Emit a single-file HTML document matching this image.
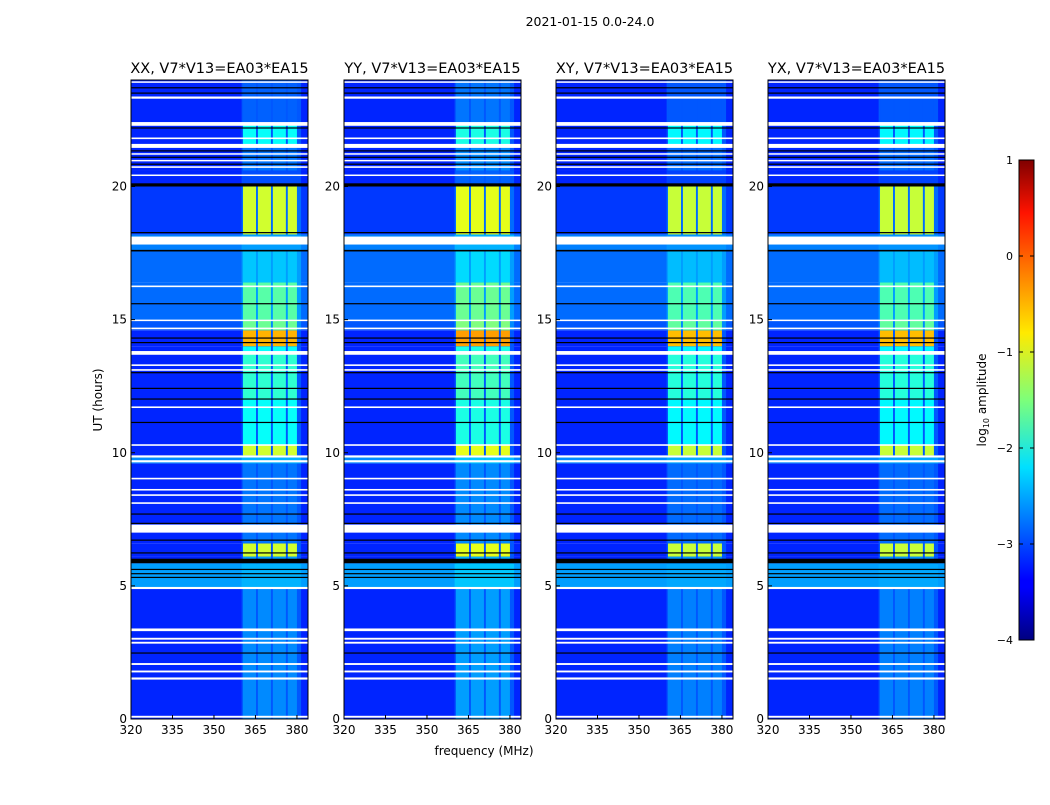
<!DOCTYPE html>
<html><head><meta charset="utf-8">
<style>
body{margin:0;background:#fff;width:1050px;height:800px;overflow:hidden;font-family:"Liberation Sans","DejaVu Sans",sans-serif}
svg text{font-family:"DejaVu Sans","Liberation Sans",sans-serif}
</style></head>
<body>
<svg id="fig" width="1050" height="800" xmlns="http://www.w3.org/2000/svg">
<defs>
<linearGradient id="jet" x1="0" y1="1" x2="0" y2="0">
<stop offset="0" stop-color="#000080"/><stop offset="0.11" stop-color="#0000ff"/><stop offset="0.125" stop-color="#0000ff"/>
<stop offset="0.36" stop-color="#00e0ff"/><stop offset="0.5" stop-color="#7dff7a"/><stop offset="0.64" stop-color="#ffea00"/>
<stop offset="0.89" stop-color="#ff1300"/><stop offset="1" stop-color="#800000"/>
</linearGradient>
</defs>
<text x="590" y="26" font-size="12.5" text-anchor="middle">2021-01-15 0.0-24.0</text>
<text transform="translate(102,400) rotate(-90)" font-size="12" text-anchor="middle">UT (hours)</text>
<text x="484" y="755" font-size="12" text-anchor="middle">frequency (MHz)</text>
<g id="panels"></g>
<g id="cbar"></g>
</svg>
<script>
// ---- data ----
const panelTitles = ["XX, V7*V13=EA03*EA15","YY, V7*V13=EA03*EA15","XY, V7*V13=EA03*EA15","YX, V7*V13=EA03*EA15"];
const panelRfiOffset = [0, 0.1, -0.05, -0.05];
const blockStart = [0, 4.9, 5.85, 6.1, 6.6, 7.3, 9.6, 9.9, 10.3, 12.0, 13.7, 14.0, 14.6, 15.0, 16.4, 17.6, 18.2, 20.1, 20.6, 21.5, 22.4, 23.3];
const blockEnd   = [4.9, 5.85, 6.1, 6.6, 7.3, 9.6, 9.9, 10.3, 12.0, 13.7, 14.0, 14.6, 15.0, 16.4, 17.6, 18.2, 20.1, 20.6, 21.5, 22.4, 23.3, 24.0];
const bgLevel    = [-3.2, -2.6, -3.2, -3.2, -3.2, -3.2, -2.7, -3.2, -3.2, -3.2, -3.2, -3.2, -2.95, -2.85, -2.85, -2.75, -3.1, -3.2, -3.2, -3.2, -3.2, -3.2];
const rfiLevel   = [-2.7, -2.5, -2.6, -1.1, -2.8, -2.8, -2.5, -1.1, -2.1, -1.9, -2.1, -0.5, -1.6, -1.7, -2.4, -2.6, -1.1, -3.0, -2.8, -2.1, -2.9, -2.9];
const subBandLo = [360.5, 365.9, 371.3, 376.7];
const subBandHi = [365.2, 370.6, 376.0, 380.0];
const whiteFlags = [[0.05,0.12],[1.48,1.56],[1.75,1.82],[2.03,2.1],[2.83,2.9],[2.98,3.05],[3.3,3.4],[4.88,4.96],[7.0,7.3],[8.08,8.14],[8.38,8.44],[8.58,8.64],[9.0,9.06],[9.64,9.72],[9.82,9.9],[10.26,10.32],[11.68,11.74],[13.08,13.14],[13.26,13.32],[13.68,13.82],[14.64,14.7],[14.95,15.0],[16.22,16.28],[17.82,18.12],[20.4,20.45],[20.7,20.76],[20.95,21.0],[21.2,21.25],[21.45,21.6],[21.78,21.84],[22.28,22.42],[23.3,23.38],[23.9,23.95]];
const blackFlags = [[2.46,2.5],[5.3,5.34],[5.45,5.48],[5.6,5.64],[5.85,6.02],[6.22,6.26],[6.7,6.74],[7.33,7.37],[7.68,7.72],[11.12,11.16],[12.0,12.04],[12.4,12.44],[13.0,13.03],[14.12,14.16],[14.3,14.33],[15.58,15.62],[17.56,17.62],[18.25,18.29],[20.0,20.12],[20.82,20.86],[21.08,21.12],[21.32,21.36],[22.18,22.22],[23.5,23.53],[23.7,23.73]];
const xTicks = [320,335,350,365,380];
const yTicks = [0,5,10,15,20];
const cbarTicks = [1,0,-1,-2,-3,-4];
// ---- layout ----
const panelX = [131,344,556,768], panelW = 177, axTop = 80, axBottom = 719;
const fMin = 320, fMax = 384, tMin = 0, tMax = 24, vMin = -4, vMax = 1;
const NS = "http://www.w3.org/2000/svg";
function el(tag, attrs, parent){const e=document.createElementNS(NS,tag);for(const k in attrs)e.setAttribute(k,attrs[k]);parent.appendChild(e);return e;}
function jet(v){let t=(v-vMin)/(vMax-vMin);t=Math.max(0,Math.min(1,t));
 const c=x=>Math.round(255*Math.max(0,Math.min(1,x)));
 return `rgb(${c(1.5-Math.abs(4*t-3))},${c(1.5-Math.abs(4*t-2))},${c(1.5-Math.abs(4*t-1))})`;}
const panelsG = document.getElementById('panels');
panelX.forEach((px,p)=>{
 const xs=f=>px+(f-fMin)/(fMax-fMin)*panelW;
 const ys=t=>axBottom-(t-tMin)/(tMax-tMin)*(axBottom-axTop);
 const g=el('g',{},panelsG);
 
 
 for(let i=0;i<blockStart.length;i++){
  const y0=ys(blockEnd[i]),y1=ys(blockStart[i]);
  const r=el('rect',{x:px,y:y0,width:panelW,height:y1-y0,fill:jet(bgLevel[i])},g);
  
  
  const rv=rfiLevel[i]+panelRfiOffset[p];
  const r2=el('rect',{x:xs(360),y:y0,width:xs(381.5)-xs(360),height:y1-y0,fill:jet(Math.min(bgLevel[i]+0.25,rv))},g);
  
  
  for(let s=0;s<subBandLo.length;s++){
   const c=el('rect',{x:xs(subBandLo[s]),y:y0,width:xs(subBandHi[s])-xs(subBandLo[s]),height:y1-y0,fill:jet(rv)},g);
   
   
  }
 }
 whiteFlags.forEach(w=>{const r=el('rect',{x:px,y:ys(w[1]),width:panelW,height:Math.max(1.5,ys(w[0])-ys(w[1])),fill:'#fff'},g);
  
  });
 blackFlags.forEach(w=>{const r=el('rect',{x:px,y:ys(w[1]),width:panelW,height:Math.max(1.2,ys(w[0])-ys(w[1])),fill:'#000'},g);
  
  });
 const fr=el('rect',{x:px,y:axTop,width:panelW,height:axBottom-axTop,fill:'none',stroke:'#000','stroke-width':1},g);
 
 
 const tt=el('text',{x:px+panelW/2,y:axTop-7,'font-size':14.5,'text-anchor':'middle'},g);tt.textContent=panelTitles[p];
 
 
 xTicks.forEach(f=>{el('line',{x1:xs(f),x2:xs(f),y1:axBottom,y2:axBottom-4,stroke:'#000'},g);
  const t=el('text',{x:xs(f),y:axBottom+15,'font-size':12,'text-anchor':'middle'},g);t.textContent=f;
  
  });
 yTicks.forEach(v=>{el('line',{x1:px,x2:px+4,y1:ys(v),y2:ys(v),stroke:'#000'},g);
  const t=el('text',{x:px-4,y:ys(v)+4,'font-size':12,'text-anchor':'end'},g);t.textContent=v;
  
  });
});
// colorbar
const cb=document.getElementById('cbar');
const cbX=1019,cbW=15,cbTop=160,cbBot=640;
const cy=v=>cbBot-(v-vMin)/(vMax-vMin)*(cbBot-cbTop);
const bar=el('rect',{x:cbX,y:cbTop,width:cbW,height:cbBot-cbTop,fill:'url(#jet)',stroke:'#000','stroke-width':1},cb);


cbarTicks.forEach(v=>{el('line',{x1:cbX,x2:cbX+4,y1:cy(v),y2:cy(v),stroke:'#000'},cb);el('line',{x1:cbX+cbW-4,x2:cbX+cbW,y1:cy(v),y2:cy(v),stroke:'#000'},cb);
 const t=el('text',{x:1013,y:cy(v)+4,'font-size':11,'text-anchor':'end'},cb);t.textContent=(v<0?'\u2212'+(-v):v);
 
 });
const lab=el('text',{transform:'translate(986,400) rotate(-90)','font-size':12,'text-anchor':'middle'},cb);
lab.innerHTML='log<tspan font-size="8" dy="3">10</tspan><tspan dy="-3"> amplitude</tspan>';


</script>
</body></html>
